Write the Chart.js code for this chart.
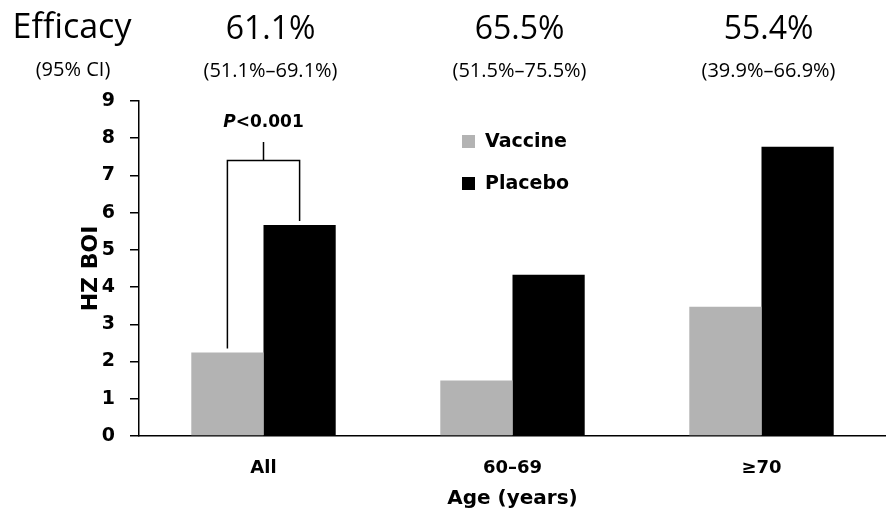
<!DOCTYPE html>
<html>
<head>
<meta charset="utf-8">
<script src="https://cdn.jsdelivr.net/npm/chart.js@4.4.1/dist/chart.umd.min.js"></script>
<style>
  html, body { margin: 0; padding: 0; background: #fff; }
  #c { display: block; }
</style>
</head>
<body>
<canvas id="c" width="886" height="513"></canvas>
<script>
var ageGroups = ['All', '60\u201369', '\u226570'];
var vaccineBoi = [2.24, 1.49, 3.47];
var placeboBoi = [5.67, 4.33, 7.77];
var efficacy = ['61.1%', '65.5%', '55.4%'];
var efficacyCi = ['(51.1%\u201369.1%)', '(51.5%\u201375.5%)', '(39.9%\u201366.9%)'];
var yTicks = [0, 1, 2, 3, 4, 5, 6, 7, 8, 9];
var pValue = 'P<0.001';
var bracketLevel = 7.4;
var bracketStem = 7.9;

var tickFont = "'DejaVu Sans', sans-serif";
var headFont = "'Open Sans', sans-serif";

// efficacy row, legend and the P-value bracket
var extras = {
  id: 'extras',
  afterDraw: function (chart) {
    var ctx = chart.ctx;
    var x = chart.scales.x;
    var y = chart.scales.y;
    ctx.save();
    ctx.fillStyle = '#000';
    ctx.textAlign = 'center';
    ctx.textBaseline = 'alphabetic';

    ctx.font = '34px ' + headFont;
    ctx.fillText('Efficacy', 72, 38);
    ctx.font = '20px ' + headFont;
    ctx.fillText('(95% CI)', 73, 76);
    efficacy.forEach(function (t, i) {
      var cx = x.getPixelForValue(i) + 7;
      ctx.font = '32px ' + headFont;
      ctx.fillText(t, cx, 39);
      ctx.font = '20px ' + headFont;
      ctx.fillText(efficacyCi[i], cx, 77);
    });

    // legend
    var lx = 462, ly = 135;
    chart.data.datasets.forEach(function (ds, i) {
      var top = ly + i * 42;
      ctx.fillStyle = ds.backgroundColor;
      ctx.fillRect(lx, top, 13, 13);
      ctx.fillStyle = '#000';
      ctx.font = 'bold 19px ' + tickFont;
      ctx.textAlign = 'left';
      ctx.textBaseline = 'middle';
      ctx.fillText(ds.label, lx + 23, top + 7);
    });

    // bracket over the "All" pair
    var vb = chart.getDatasetMeta(0).data[0];
    var pb = chart.getDatasetMeta(1).data[0];
    var by = y.getPixelForValue(bracketLevel);
    var sy = y.getPixelForValue(bracketStem);
    var mid = (vb.x + pb.x) / 2;
    ctx.strokeStyle = '#000';
    ctx.lineWidth = 1.5;
    ctx.beginPath();
    ctx.moveTo(vb.x, vb.y - 4);
    ctx.lineTo(vb.x, by);
    ctx.lineTo(pb.x, by);
    ctx.lineTo(pb.x, pb.y - 4);
    ctx.moveTo(mid, by);
    ctx.lineTo(mid, sy);
    ctx.stroke();

    ctx.textBaseline = 'alphabetic';
    ctx.textAlign = 'left';
    ctx.font = 'italic bold 17px ' + tickFont;
    var pW = ctx.measureText(pValue.charAt(0)).width;
    ctx.font = 'bold 17px ' + tickFont;
    var restW = ctx.measureText(pValue.slice(1)).width;
    var start = mid - (pW + restW) / 2;
    ctx.font = 'italic bold 17px ' + tickFont;
    ctx.fillText(pValue.charAt(0), start, 127);
    ctx.font = 'bold 17px ' + tickFont;
    ctx.fillText(pValue.slice(1), start + pW, 127);
    ctx.restore();
  }
};

new Chart(document.getElementById('c').getContext('2d'), {
  type: 'bar',
  data: {
    labels: ageGroups,
    datasets: [
      { label: 'Vaccine', data: vaccineBoi, backgroundColor: '#b3b3b3' },
      { label: 'Placebo', data: placeboBoi, backgroundColor: '#000000' }
    ]
  },
  options: {
    responsive: false,
    animation: false,
    layout: { padding: { top: 101, right: 0, bottom: 0, left: 0 } },
    datasets: { bar: { categoryPercentage: 0.58, barPercentage: 1 } },
    plugins: { legend: { display: false }, tooltip: { enabled: false } },
    scales: {
      x: {
        grid: { display: false, drawTicks: false },
        border: { display: true, color: '#000', width: 1.5 },
        ticks: { color: '#000', padding: 22, font: { family: tickFont, weight: 'bold', size: 18 } },
        title: {
          display: true, text: 'Age (years)', color: '#000',
          font: { family: tickFont, weight: 'bold', size: 20 },
          padding: { top: 0, bottom: 2 }
        },
        afterFit: function (s) { s.height = 77; }
      },
      y: {
        min: 0,
        max: 9,
        afterBuildTicks: function (s) { s.ticks = yTicks.map(function (v) { return { value: v }; }); },
        grid: { display: true, drawOnChartArea: false, drawTicks: true, tickLength: 9, color: '#000', lineWidth: 1.5 },
        border: { display: true, color: '#000', width: 1.5 },
        ticks: { color: '#000', padding: 15, font: { family: tickFont, weight: 'bold', size: 19 } },
        title: {
          display: true, text: 'HZ BOI', color: '#000',
          font: { family: tickFont, weight: 'bold', size: 22 },
          padding: { top: 78, bottom: 0 }
        },
        afterFit: function (s) { s.width = 139; }
      }
    }
  },
  plugins: [extras]
});
</script>
</body>
</html>
